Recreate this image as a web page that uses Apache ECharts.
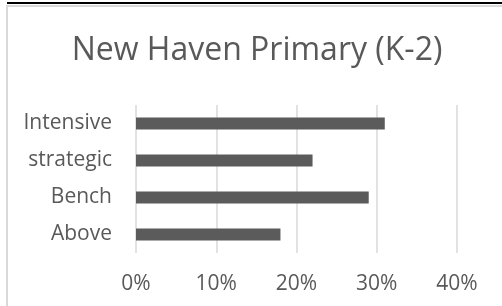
<!DOCTYPE html>
<html>
<head>
<meta charset="utf-8">
<script src="https://cdn.jsdelivr.net/npm/echarts@6/dist/echarts.min.js"></script>
<style>html,body{margin:0;padding:0;background:#fff;}#c{width:502px;height:306px;}</style>
</head>
<body>
<div id="c"></div>
<script>
var categories = ['Above', 'Bench', 'strategic', 'Intensive'];
var values = [18, 29, 22, 31];
var xTicks = [0, 10, 20, 30, 40];
var titleText = 'New Haven Primary (K-2)';

var chart = echarts.init(document.getElementById('c'), null, {renderer: 'canvas'});
var font = 'Open Sans';
chart.setOption({
  animation: false,
  backgroundColor: '#ffffff',
  title: {
    text: titleText,
    left: 257,
    textAlign: 'center',
    top: 35,
    padding: 0,
    textStyle: {fontFamily: font, fontSize: 32, fontWeight: 'normal', color: '#595959'}
  },
  graphic: [
    {type: 'rect', shape: {x: 7, y: 2, width: 495, height: 2}, style: {fill: '#000000'}, silent: true},
    {type: 'rect', shape: {x: 6, y: 5, width: 496, height: 2}, style: {fill: '#d9d9d9'}, silent: true},
    {type: 'rect', shape: {x: 6, y: 5, width: 2, height: 301}, style: {fill: '#d9d9d9'}, silent: true}
  ],
  grid: {left: 136, right: 45, top: 105, bottom: 53, containLabel: false},
  xAxis: {
    type: 'value',
    min: xTicks[0],
    max: xTicks[xTicks.length - 1],
    interval: xTicks[1] - xTicks[0],
    axisLine: {show: false},
    axisTick: {show: false},
    splitLine: {show: true, lineStyle: {color: '#d9d9d9', width: 1.5}},
    axisLabel: {formatter: '{value}%', fontFamily: font, fontSize: 21, color: '#595959', margin: 21}
  },
  yAxis: {
    type: 'category',
    data: categories,
    axisLine: {show: false},
    axisTick: {show: false},
    axisLabel: {fontFamily: font, fontSize: 21, color: '#595959', margin: 24}
  },
  series: [{
    type: 'bar',
    data: values,
    barWidth: '33%',
    itemStyle: {color: '#5b5b5b'}
  }]
});
</script>
</body>
</html>
